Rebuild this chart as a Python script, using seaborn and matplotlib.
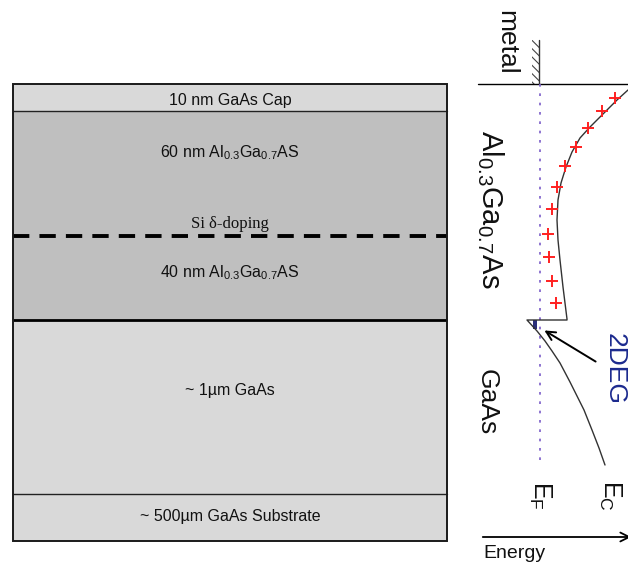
import matplotlib
matplotlib.use("Agg")
import matplotlib.pyplot as plt
from matplotlib.patches import Rectangle
import seaborn as sns
import pandas as pd

# Heterostructure layer stack (top edge, bottom edge in drawing units)
layer_labels = [
    "10 nm GaAs Cap",
    r"60 nm Al$_\mathrm{0.3}$Ga$_\mathrm{0.7}$AS",
    r"40 nm Al$_\mathrm{0.3}$Ga$_\mathrm{0.7}$AS",
    "~ 1µm GaAs",
    "~ 500µm GaAs Substrate",
]
layer_top = [84, 111, 236, 320, 494]
layer_bottom = [111, 236, 320, 494, 541]
doping_label = "Si δ-doping"
doping_depth = 236

# Conduction band edge through the AlGaAs barrier, the band offset and the GaAs channel
cb_x = [628, 617, 600, 590, 580, 572, 566, 561, 558, 557, 558, 560, 563, 567,
        567, 527, 537, 545, 552, 560, 570, 577, 584, 592, 599, 605]
cb_y = [90, 100, 117, 127, 138, 152, 167, 183, 200, 220, 240, 260, 287, 319,
        320, 320, 331, 341, 351, 363, 382, 396, 410, 430, 448, 465]

# Ionised donors in the barrier
donor_x = [615, 602, 588, 576, 565, 557, 552, 548, 549, 552, 556]
donor_y = [98, 111, 128, 147, 166, 187, 209, 234, 257, 281, 303]

# Fermi level position
fermi_x = 540
fermi_top, fermi_bottom = 84, 465

sns.set_theme(style="white")
plt.rcParams["font.family"] = ["Liberation Sans", "DejaVu Sans"]
plt.rcParams["mathtext.fontset"] = "custom"
plt.rcParams["mathtext.rm"] = "Liberation Sans"
plt.rcParams["mathtext.it"] = "Liberation Sans:italic"
plt.rcParams["hatch.linewidth"] = 0.8

fig = plt.figure(figsize=(6.28, 5.65), dpi=100)
ax = fig.add_axes([0, 0, 1, 1])
ax.set_xlim(0, 628)
ax.set_ylim(565, 0)
ax.axis("off")

# ---- layer stack ----
stack_left, stack_right = 13, 447
fills = ["#d9d9d9", "#bfbfbf", "#bfbfbf", "#d9d9d9", "#d9d9d9"]
for top, bot, fc in zip(layer_top, layer_bottom, fills):
    ax.add_patch(Rectangle((stack_left, top), stack_right - stack_left, bot - top,
                           facecolor=fc, edgecolor="none", zorder=1))
ax.add_patch(Rectangle((stack_left, layer_top[0]), stack_right - stack_left,
                       layer_bottom[-1] - layer_top[0], fill=False,
                       edgecolor="#1a1a1a", lw=1.4, zorder=3))
ax.plot([stack_left, stack_right], [layer_top[1]] * 2, color="#222", lw=1.0, zorder=2)
ax.plot([stack_left, stack_right], [layer_top[3]] * 2, color="black", lw=2.0,
        solid_capstyle="butt", zorder=2)
ax.plot([stack_left, stack_right], [layer_top[4]] * 2, color="#222", lw=1.0, zorder=2)
ax.plot([stack_left, stack_right], [doping_depth] * 2, color="black", lw=2.8,
        dashes=(4.2, 2.6), dash_capstyle="butt", zorder=2)

label_y = [101, 153, 273, 390, 517]
cx = (stack_left + stack_right) / 2
for lab, ly in zip(layer_labels, label_y):
    ax.text(cx, ly, lab, ha="center", va="center", fontsize=11.5, color="#111")
ax.text(cx, 224, doping_label, ha="center", va="center", fontsize=12,
        family=["Liberation Serif", "DejaVu Serif"], color="#111")

# ---- band diagram ----
ax.plot([478, 628], [84, 84], color="black", lw=1.0)
ax.plot([539, 539], [40, 84], color="#333", lw=1.0)
ax.add_patch(Rectangle((532, 40), 7, 44, fill=False, lw=0, edgecolor="#444",
                       hatch="\\\\\\\\"))

# Fermi level (dotted)
ax.plot([fermi_x, fermi_x], [fermi_top, fermi_bottom], color="#7a5cc8", lw=1.2,
        linestyle=(0, (1.6, 4.0)), zorder=2)

band = pd.DataFrame({"x": cb_x, "y": cb_y})
sns.lineplot(data=band, x="x", y="y", sort=False, estimator=None, ax=ax,
             color="#333333", lw=1.0)

ax.add_patch(Rectangle((533, 320), 4, 9, facecolor="#2b2f7a", edgecolor="none"))

donors = pd.DataFrame({"x": donor_x, "y": donor_y})
sns.scatterplot(data=donors, x="x", y="y", marker="+", s=75, color="#ff2020",
                linewidth=1.4, ax=ax, zorder=4)

ax.annotate("", xy=(542, 329), xytext=(598, 363),
            arrowprops=dict(arrowstyle="->", lw=1.4, color="black",
                            mutation_scale=16))

# energy axis arrow
ax.annotate("", xy=(634, 537), xytext=(480, 537), annotation_clip=False,
            arrowprops=dict(arrowstyle="->", lw=1.3, color="black",
                            mutation_scale=16))
ax.text(483, 553, "Energy", ha="left", va="center", fontsize=14, color="#111")

# rotated labels
ax.text(506, 42, "metal", rotation=-90, ha="center", va="center", fontsize=19, color="#111")
ax.text(490, 209, r"Al$_\mathrm{0.3}$Ga$_\mathrm{0.7}$As", rotation=-90,
        ha="center", va="center", fontsize=21, color="#111")
ax.text(487, 402, "GaAs", rotation=-90, ha="center", va="center", fontsize=19, color="#111")
ax.text(615, 369, "2DEG", rotation=-90, ha="center", va="center", fontsize=19,
        color="#1c2a8e")
ax.text(540, 495, r"E$_\mathrm{F}$", rotation=-90, ha="center", va="center",
        fontsize=18, color="#111")
ax.text(610, 495, r"E$_\mathrm{C}$", rotation=-90, ha="center", va="center",
        fontsize=18, color="#111")

fig.savefig("out.png", dpi=100, facecolor="white")
